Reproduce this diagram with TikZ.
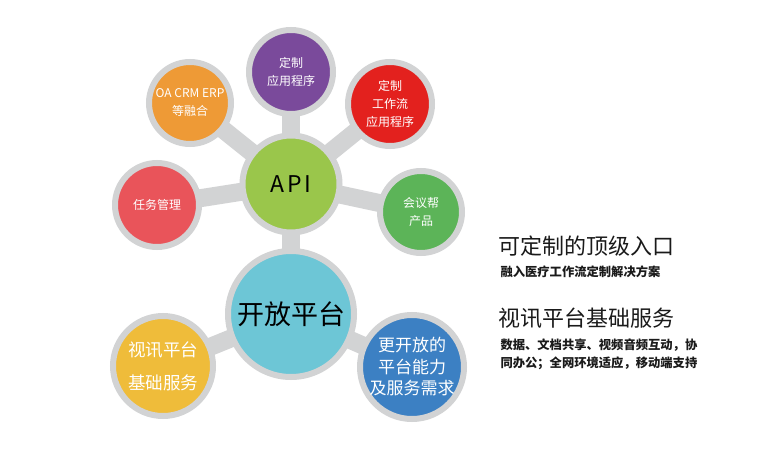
\documentclass[tikz,border=0pt]{standalone}
\usepackage{fontspec}
\setmainfont{Noto Sans CJK SC}
\usetikzlibrary{shadows}
\pgfdeclarelayer{background}
\pgfdeclarelayer{paper}
\pgfsetlayers{paper,background,main}
\definecolor{ringgrey}{HTML}{D2D3D4}
\definecolor{cPurple}{HTML}{7A4A9B}
\definecolor{cOrange}{HTML}{EE9A36}
\definecolor{cRed}{HTML}{E3211E}
\definecolor{cTask}{HTML}{E9545A}
\definecolor{cApi}{HTML}{9AC64B}
\definecolor{cMeet}{HTML}{5CB458}
\definecolor{cOpen}{HTML}{6DC6D6}
\definecolor{cYellow}{HTML}{EFBC3A}
\definecolor{cBlue}{HTML}{3C80C3}
\definecolor{txt}{HTML}{1A1A1A}
\tikzset{
  bubble/.style 2 args={circle, fill=#1, draw=ringgrey, line width=6pt,
    minimum size=#2, inner sep=0pt, align=center, text=white,
    drop shadow={opacity=0.18, shadow xshift=1pt, shadow yshift=-2pt}},
  small/.style={font=\fontsize{12}{18}\selectfont},
  conn/.style={draw=ringgrey, line width=18pt},
  title/.style={anchor=west, text=txt, font=\fontsize{22}{24}\selectfont},
  sub/.style={anchor=west, text=txt, font=\bfseries\fontsize{12.3}{18}\selectfont, align=left},
}
\begin{document}
\begin{tikzpicture}[x=1pt,y=-1pt]
\begin{pgfonlayer}{paper}
\useasboundingbox[fill=white] (0,0) rectangle (767,457);
\end{pgfonlayer}
% nodes
\node[bubble={cApi}{97}, text=black, font=\fontsize{23}{24}\selectfont\addfontfeature{LetterSpace=12}] (api) at (291,184) {API};
\node[bubble={cPurple}{84}, small] (purple) at (291,72) {定制\\应用程序};
\node[bubble={cOrange}{82}, small] (orange) at (190,103) {OA CRM ERP\\等融合};
\node[bubble={cRed}{84}, small] (redwf) at (390,104) {定制\\工作流\\应用程序};
\node[bubble={cTask}{84}, small] (task) at (157,205) {任务管理};
\node[bubble={cMeet}{82}, small] (meet) at (421,212) {会议帮\\产品};
\node[bubble={cOpen}{126}, text=black, font=\fontsize{27}{30}\selectfont] (open) at (291,314) {开放平台};
\node[bubble={cYellow}{100}, font=\fontsize{17.5}{33}\selectfont] (yellow) at (163,366) {视讯平台\\基础服务};
\node[bubble={cBlue}{104}, font=\fontsize{17}{21.5}\selectfont] (blue) at (412,367) {更开放的\\平台能力\\及服务需求};
% connectors
\begin{pgfonlayer}{background}
\draw[conn] (api.center) -- (purple.center);
\draw[conn] (api.center) -- (orange.center);
\draw[conn] (api.center) -- (redwf.center);
\draw[conn] (api.center) -- (task.center);
\draw[conn] (api.center) -- (meet.center);
\draw[conn] (api.center) -- (open.center);
\draw[conn] (open.center) -- (yellow.center);
\draw[conn] (open.center) -- (blue.center);
\end{pgfonlayer}
% right side text
\node[title] (t1) at (495,246) {可定制的顶级入口};
\node[sub] (s1) at (497,272) {融入医疗工作流定制解决方案};
\node[title] (t2) at (495,318) {视讯平台基础服务};
\node[sub] (s2) at (497,354) {数据、文档共享、视频音频互动，协\\同办公；全网环境适应，移动端支持};
\end{tikzpicture}
\end{document}
